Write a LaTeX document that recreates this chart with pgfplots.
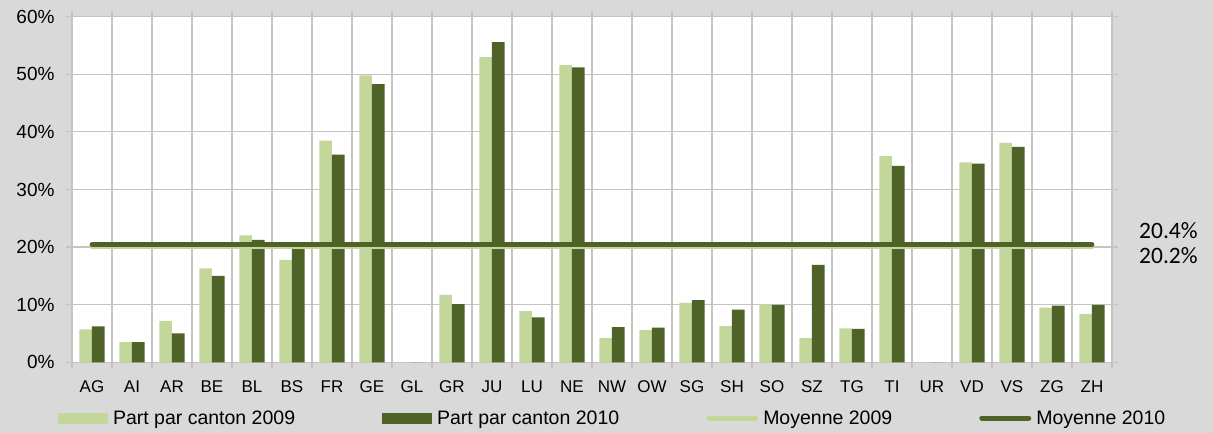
\documentclass[border=0pt]{standalone}
\usepackage{fontspec}
\setmainfont{Liberation Sans}
\newfontfamily\calib{Carlito}
\usepackage{pgfplots}
\usepackage{pgfplotstable}
\pgfplotsset{compat=1.18}
\definecolor{bgc}{RGB}{217,217,217}
\definecolor{gridc}{RGB}{196,196,196}
\definecolor{lightg}{RGB}{196,215,155}
\definecolor{darkg}{RGB}{79,98,40}

% part par canton (%), 2009 and 2010
\pgfplotstableread{
x y09 y10
0 5.7 6.25
1 3.5 3.5
2 7.2 5.0
3 16.3 15.0
4 22.05 21.25
5 17.8 19.8
6 38.5 36.05
7 49.8 48.3
8 0 0
9 11.7 10.1
10 53.0 55.6
11 8.9 7.8
12 51.6 51.2
13 4.2 6.1
14 5.6 6.0
15 10.3 10.8
16 6.3 9.15
17 10.05 9.95
18 4.2 16.9
19 5.9 5.8
20 35.8 34.1
21 0 0
22 34.7 34.5
23 38.1 37.4
24 9.5 9.85
25 8.4 9.95
}\cantons

\begin{document}
\begin{tikzpicture}[x=1pt,y=1pt]
\fill[bgc] (0,0) rectangle (1213,433);
\begin{axis}[
  at={(72pt,70.7pt)}, anchor=south west,
  scale only axis, width=1040pt, height=345.6pt,
  xmin=-0.5, xmax=25.5, ymin=0, ymax=60,
  clip=false,
  axis background/.style={fill=white},
  axis line style={gridc, line width=1.2pt},
  xtick={-0.5,0.5,...,25.5}, xticklabels={},
  ytick={0,10,...,60},
  yticklabel={\pgfmathprintnumber{\tick}\%},
  /pgf/number format/assume math mode=true,
  grid=major, major grid style={gridc, line width=1.2pt},
  tick align=outside, major tick length=6pt,
  tick style={gridc, line width=1.2pt},
  yticklabel style={font=\fontsize{19}{19}\selectfont, text=black, xshift=-8pt},
  extra x ticks={0,1,...,25},
  extra x tick labels={AG,AI,AR,BE,BL,BS,FR,GE,GL,GR,JU,LU,NE,NW,OW,SG,SH,SO,SZ,TG,TI,UR,VD,VS,ZG,ZH},
  extra x tick style={grid=none, major tick length=0pt,
    tick label style={font=\fontsize{17}{17}\selectfont, text=black, yshift=-15pt}},
  legend columns=4,
  legend style={at={(-0.01346,-0.1612)}, anchor=west, draw=none, fill=none,
    inner sep=0pt, outer sep=0pt, font=\fontsize{19.5}{20}\selectfont,
    nodes={inner sep=0pt},
    /tikz/every odd column/.append style={column sep=5pt},
    /tikz/every even column/.append style={column sep=87pt}},
  legend cell align=left,
]
\addplot[ybar, bar width=12.7pt, bar shift=-6.35pt, fill=lightg, draw=none,
  legend image code/.code={\fill[lightg] (0pt,-5.5pt) rectangle (50pt,5.5pt);}]
  table[x=x, y=y09] {\cantons};
\addlegendentry{Part par canton 2009}
\addplot[ybar, bar width=12.7pt, bar shift=6.35pt, fill=darkg, draw=none,
  legend image code/.code={\fill[darkg] (0pt,-5.5pt) rectangle (50pt,5.5pt);}]
  table[x=x, y=y10] {\cantons};
\addlegendentry{Part par canton 2010}
\addplot[lightg, line width=5pt, line cap=round, mark=none,
  legend image code/.code={\draw[lightg, line width=5pt, line cap=round] (2.5pt,0pt) -- (49.5pt,0pt);}]
  coordinates {(0,20.1) (25,20.1)};
\addlegendentry{Moyenne 2009}
\addplot[darkg, line width=4.8pt, line cap=round, mark=none,
  legend image code/.code={\draw[darkg, line width=5pt, line cap=round] (2.5pt,0pt) -- (49.5pt,0pt);}]
  coordinates {(0,20.4) (25,20.4)};
\addlegendentry{Moyenne 2010}
\node[anchor=west, font=\calib\fontsize{23.5}{23.5}\selectfont, inner sep=0pt, text=black]
  at (axis cs:25.5,20.4) [xshift=27pt, yshift=13.8pt] {20.4\%};
\node[anchor=west, font=\calib\fontsize{23.5}{23.5}\selectfont, inner sep=0pt, text=black]
  at (axis cs:25.5,20.4) [xshift=27pt, yshift=-11.1pt] {20.2\%};
\end{axis}
\pgfresetboundingbox
\useasboundingbox (0,0) rectangle (1213,433);
\end{tikzpicture}
\end{document}
